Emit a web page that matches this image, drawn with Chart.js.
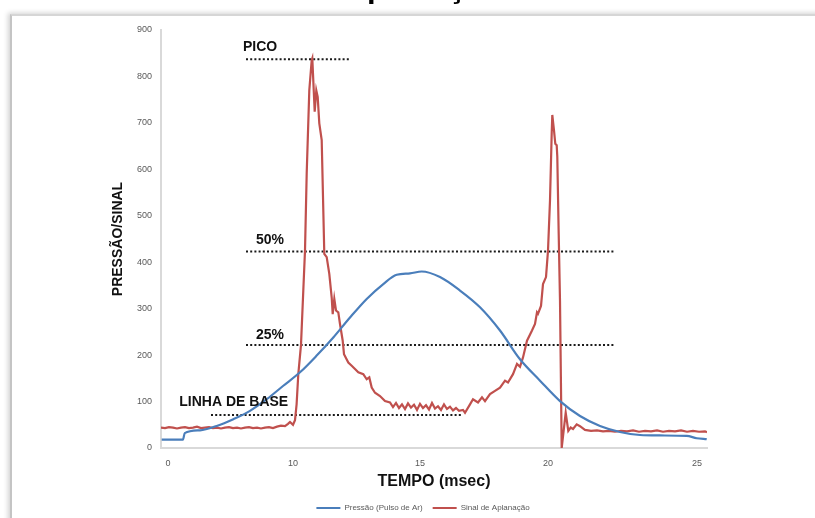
<!DOCTYPE html>
<html>
<head>
<meta charset="utf-8">
<script src="https://cdn.jsdelivr.net/npm/chart.js@4"></script>
<style>
  html, body { margin:0; padding:0; width:815px; height:518px; overflow:hidden; background:#fff; }
  .frame { position:absolute; left:10px; top:14px; width:840px; height:540px;
           border-left:2px solid #c4c4c4; border-top:2px solid #d6d6d6;
           box-shadow:-2px -1px 5px rgba(0,0,0,0.18); background:#fff; }
  .wrap { position:absolute; left:0; top:-30px; width:815px; height:552px; }
</style>
</head>
<body>
<div class="frame"></div>
<div class="wrap"><canvas id="c" width="815" height="552"></canvas></div>
<script>
// ---- data (x in sample units along the time axis) ----
const blueX = [0.35, 11, 11.85, 19.5, 27.85, 36.15, 44.5, 52.85, 61.15, 69.5, 77.85, 86.15, 94.5, 102.85, 111.15, 117.85, 124.5, 130.35, 139.5, 149.5, 159.5, 169.5, 179.5, 189.5, 199.5, 209.5, 219.5, 229.5, 239.5, 249.5, 262.85, 267.85, 272.85];
const blueY = [18, 18, 32, 38, 47.5, 62, 80, 105, 134, 163, 199, 238, 281, 321, 353, 373, 376, 380, 368, 339, 303, 253, 191, 145, 101, 69, 47.5, 34.5, 28, 27, 26, 21, 19];

const redX = [0, 2, 4, 6, 8, 10, 12, 14, 16, 18, 20, 22, 24, 26, 28, 30, 32, 34, 36, 38, 40, 42, 44, 46, 48, 50, 52, 54, 56, 58, 60, 62, 63.5, 64.5, 66, 67, 67.8, 68.65, 70, 71.15, 72, 72.85, 74.15, 75.35, 75.65, 76.85, 77.65, 78.35, 79.15, 80.35, 81.65, 82.85, 84.15, 85.35, 85.85, 86.65, 87.5, 88.65, 89.5, 90.85, 91.5, 93.65, 95.35, 97, 98.65, 101.15, 102.85, 104.15, 105.35, 107, 109.5, 112, 114.5, 116, 117.5, 119, 120.5, 122, 123.5, 125, 126.5, 128, 129.5, 131, 132.5, 134, 135.5, 137, 138.5, 140, 141.5, 143, 144.5, 146, 147.5, 149, 151, 152, 154.5, 156, 158.5, 160.5, 162, 164.5, 167, 169.5, 172, 173.5, 176, 178, 179.5, 181, 183, 185.5, 187, 188, 188.5, 190, 191, 192.5, 193.5, 194.5, 195.35, 195.65, 196.5, 197.15, 197.85, 198.15, 198.85, 199.5, 200.35, 202.35, 203.65, 204.85, 206, 207.85, 209.5, 212, 215, 218, 221, 224, 227, 230, 233, 236, 239, 242, 245, 248, 251, 254, 257, 260, 263, 266, 269, 272, 273];
const redY = [44, 43, 45, 44, 42, 44, 45, 43, 44, 46, 43, 44, 45, 43, 44, 42, 44, 45, 43, 44, 42, 44, 45, 43, 44, 42, 44, 45, 43, 46, 48, 47, 52, 56, 50, 60, 94, 159, 222, 339, 425, 591, 770, 835, 839, 724, 770, 756, 699, 663, 418, 411, 375, 324, 288, 321, 296, 292, 267, 231, 202, 184, 177, 170, 163, 159, 148, 152, 130, 119, 112, 101, 98, 88, 97, 86, 94, 84, 96, 87, 93, 82, 95, 86, 92, 83, 97, 85, 90, 82, 94, 84, 89, 81, 86, 80, 82, 76, 94, 105, 98, 109, 101, 116, 123, 130, 145, 141, 159, 181, 175, 195, 231, 253, 267, 292, 289, 306, 353, 368, 425, 533, 677, 717, 684, 655, 652, 627, 461, 317, 0, 76, 37, 44, 41, 51, 47, 39, 37, 38, 36, 37, 35, 37, 36, 38, 35, 37, 36, 38, 35, 37, 36, 38, 35, 37, 35, 36, 34];

// reference (dotted) levels
const refNames  = ['PICO', '50%', '25%', 'LINHA DE BASE'];
const refLevels = [837, 423, 222, 71];
const refStart  = [42.5, 42.5, 42.5, 25];
const refEnd    = [94.5, 227, 227, 150.5];

// x tick labels
const tickPos    = [3.5, 66, 129.5, 193.5, 268];
const tickLabels = ['0', '10', '15', '20', '25'];

const seriesNames = ['Pressão (Pulso de Ar)', 'Sinal de Aplanação'];

// label anchors in data units
const refLabelX = [41, 47.5, 47.5, 9.15];
const refLabelY = [863, 448, 244, 98];

// ---- chart ----
Chart.defaults.font.family = '"Liberation Sans", Arial, sans-serif';
const BLUE = '#4A7EBB', RED = '#C0504D';

const datasets = [
  { label: seriesNames[0], data: blueX.map((x, i) => ({x, y: blueY[i]})),
    borderColor: BLUE, backgroundColor: BLUE, borderWidth: 2.2, pointRadius: 0,
    cubicInterpolationMode: 'monotone' },
  { label: seriesNames[1], data: redX.map((x, i) => ({x, y: redY[i]})),
    borderColor: RED, backgroundColor: RED, borderWidth: 2.2, pointRadius: 0, tension: 0 }
];
refLevels.forEach((v, i) => {
  datasets.push({ label: refNames[i], data: [{x: refStart[i], y: v}, {x: refEnd[i], y: v}],
    borderColor: '#1a1a1a', borderWidth: 2, borderDash: [2, 2.2], pointRadius: 0 });
});

const refTextPlugin = {
  id: 'refText',
  afterDatasetsDraw(chart) {
    const ctx = chart.ctx, xs = chart.scales.x, ys = chart.scales.y;
    ctx.save();
    ctx.font = 'bold 14px "Liberation Sans", Arial, sans-serif';
    ctx.fillStyle = '#111';
    ctx.textAlign = 'left';
    ctx.textBaseline = 'middle';
    refNames.forEach((t, i) => {
      ctx.fillText(t, xs.getPixelForValue(refLabelX[i]), ys.getPixelForValue(refLabelY[i]));
    });
    ctx.restore();
  }
};

new Chart(document.getElementById('c'), {
  type: 'line',
  data: { datasets },
  plugins: [refTextPlugin],
  options: {
    responsive: false,
    animation: false,
    layout: { padding: { left: 31, right: 0, top: 0, bottom: 0 } },
    plugins: {
      title: { display: true, text: 'Aplanação', color: '#000',
               font: { size: 31, weight: 'bold' }, padding: { top: 0, bottom: 22.8 } },
      legend: {
        position: 'bottom',
        labels: {
          color: '#595959', font: { size: 8 }, boxWidth: 24, boxHeight: 2, padding: 10,
          generateLabels(chart) {
            return Chart.defaults.plugins.legend.labels.generateLabels(chart)
              .filter(l => l.datasetIndex < 2)
              .map(l => Object.assign(l, { lineWidth: 0, lineDash: [] }));
          }
        }
      },
      tooltip: { enabled: false }
    },
    scales: {
      x: {
        type: 'linear', min: 0, max: 273,
        grid: { display: false, drawTicks: false },
        border: { display: true, color: '#d9d9d9', width: 2 },
        afterBuildTicks(s) { s.ticks = tickPos.map(v => ({ value: v })); },
        afterFit(s) { s.height = 46; },
        ticks: { autoSkip: false, maxRotation: 0, padding: 10, color: '#595959', font: { size: 9 },
                 callback: (v, i) => tickLabels[i] },
        title: { display: true, text: 'TEMPO (msec)', color: '#111',
                 font: { size: 16, weight: 'bold' }, padding: { top: 0, bottom: 2.4 } }
      },
      y: {
        min: 0, max: 900,
        grid: { display: false, drawTicks: false },
        border: { display: true, color: '#d9d9d9', width: 2 },
        afterFit(s) { s.width = 130; },
        ticks: { stepSize: 100, padding: 9, color: '#595959', font: { size: 9 } },
        title: { display: true, text: 'PRESSÃO/SINAL', color: '#111',
                 font: { size: 14, weight: 'bold' }, padding: { top: 79, bottom: 0 } }
      },
      y2: {
        position: 'right', min: 0, max: 1,
        grid: { display: false, drawTicks: false },
        border: { display: false },
        ticks: { display: false },
        afterFit(s) { s.width = 108; }
      }
    }
  }
});
</script>
</body>
</html>
